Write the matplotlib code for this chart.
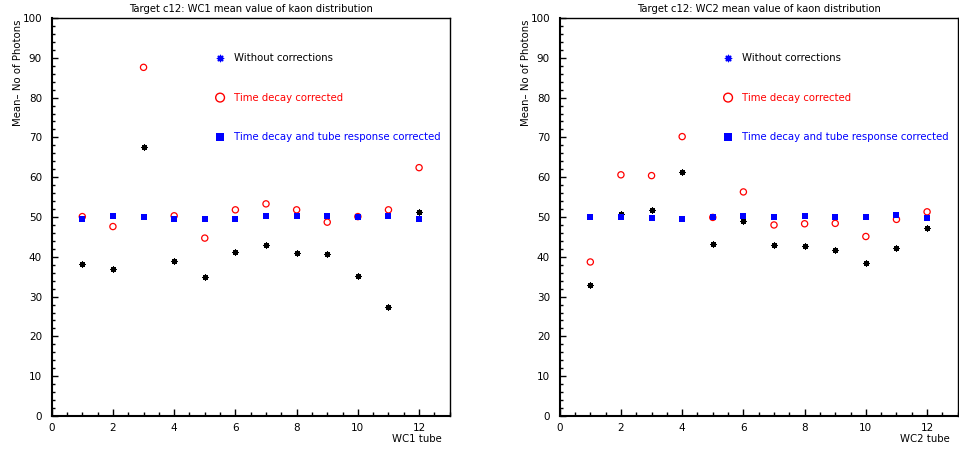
import numpy as np
import matplotlib
matplotlib.use('Agg')
import matplotlib.pyplot as plt
from matplotlib.ticker import MultipleLocator

# tube numbers
tubes = np.arange(1, 13)

# WC1 values
wc1_raw = [38.1, 36.9, 67.7, 38.9, 34.8, 41.3, 42.9, 41.0, 40.6, 35.2, 27.4, 51.3]
wc1_decay = [50.1, 47.6, 87.6, 50.3, 44.7, 51.8, 53.3, 51.8, 48.7, 50.1, 51.8, 62.4]
wc1_full = [49.6, 50.2, 49.9, 49.4, 49.5, 49.6, 50.2, 50.2, 50.2, 50.0, 50.2, 49.4]

# WC2 values
wc2_raw = [33.0, 50.8, 51.8, 61.3, 43.1, 49.0, 43.0, 42.7, 41.6, 38.4, 42.1, 47.2]
wc2_decay = [38.7, 60.6, 60.4, 70.2, 49.9, 56.3, 48.0, 48.3, 48.4, 45.1, 49.4, 51.3]
wc2_full = [50.1, 50.1, 49.7, 49.5, 50.0, 50.3, 50.1, 50.2, 50.1, 50.0, 50.4, 49.7]

titles = ['Target c12: WC1 mean value of kaon distribution',
          'Target c12: WC2 mean value of kaon distribution']
xlabels = ['WC1 tube', 'WC2 tube']
legend_text = ['Without corrections', 'Time decay corrected',
               'Time decay and tube response corrected']

plt.rcParams['font.family'] = 'DejaVu Sans'
fig = plt.figure(figsize=(9.59, 4.51), dpi=100)

W, H = 959, 451
panels = [(51.7, wc1_raw, wc1_decay, wc1_full),
          (559.7, wc2_raw, wc2_decay, wc2_full)]

star = (8, 2, 0)

for i, (x0, raw, decay, full) in enumerate(panels):
    ax = fig.add_axes([x0 / W, (H - 416) / H, 398 / W, 398 / H])
    ax.set_xlim(0, 13)
    ax.set_ylim(0, 100)

    ax.scatter(tubes, raw, marker=star, s=13, color='black', linewidths=0.9)
    ax.scatter(tubes, decay, marker='o', s=20, facecolors='none',
               edgecolors='red', linewidths=0.9)
    ax.scatter(tubes, full, marker='s', s=18, color='blue', linewidths=0)

    # legend drawn inside the frame like the original
    ax.scatter([5.5], [90], marker=star, s=20, color='blue', linewidths=1.0)
    ax.scatter([5.5], [80], marker='o', s=40, facecolors='none',
               edgecolors='red', linewidths=1.0)
    ax.scatter([5.5], [70], marker='s', s=36, color='blue', linewidths=0)
    ax.text(5.95, 90, legend_text[0], color='black', fontsize=7.3, va='center')
    ax.text(5.95, 80, legend_text[1], color='red', fontsize=7.3, va='center')
    ax.text(5.95, 70, legend_text[2], color='blue', fontsize=7.3, va='center')

    ax.xaxis.set_major_locator(MultipleLocator(2))
    ax.xaxis.set_minor_locator(MultipleLocator(0.5))
    ax.yaxis.set_major_locator(MultipleLocator(10))
    ax.yaxis.set_minor_locator(MultipleLocator(2))
    ax.tick_params(which='both', direction='in', top=False, right=False,
                   labelsize=7.5, width=1)
    ax.tick_params(axis='x', which='major', length=5, pad=5)
    ax.tick_params(axis='x', which='minor', length=2.8)
    ax.tick_params(axis='y', which='major', length=4.5, pad=7)
    ax.tick_params(axis='y', which='minor', length=2.3)
    for side in ['left', 'bottom']:
        ax.spines[side].set_linewidth(1.5)
    for side in ['top', 'right']:
        ax.spines[side].set_linewidth(1.0)

    fig.text((x0 + 199) / W, (H - 9) / H, titles[i], ha='center', va='center',
             fontsize=7.2)
    fig.text((x0 + 390) / W, (H - 439) / H, xlabels[i], ha='right',
             va='center', fontsize=7.3)
    fig.text((x0 - 34) / W, (H - 20) / H, 'Mean\u2013 No of Photons',
             rotation=90, ha='center', va='top', fontsize=7.3)

fig.savefig('out.png', dpi=100)
